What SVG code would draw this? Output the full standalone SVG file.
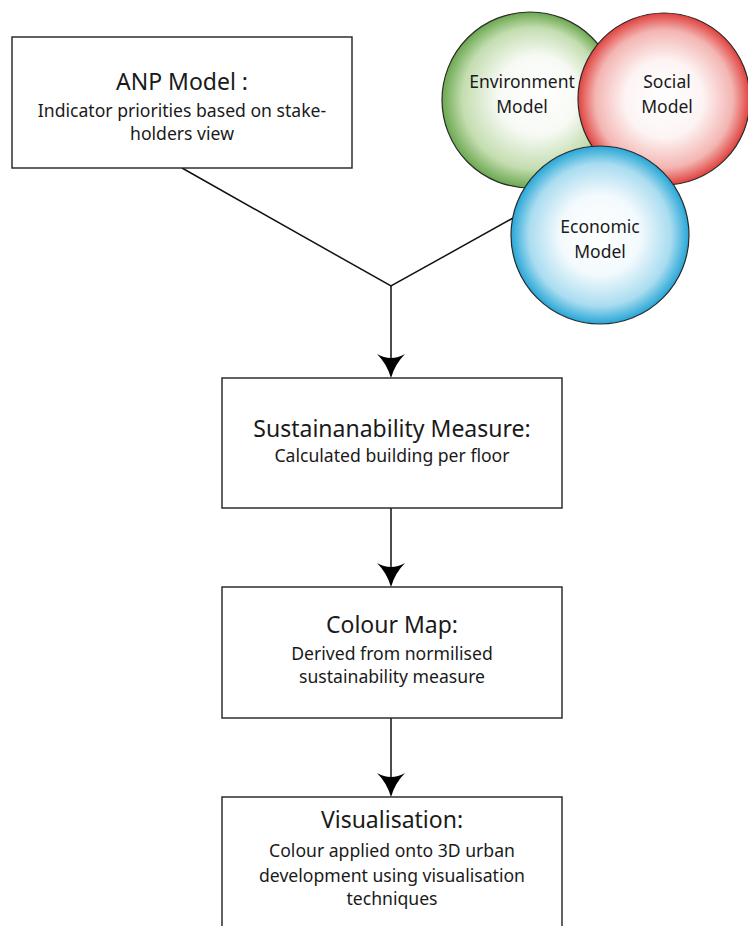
<svg xmlns="http://www.w3.org/2000/svg" width="748" height="926" viewBox="0 0 748 926">
<style>
.box{fill:#fff;stroke:#231f20;stroke-width:1.4}
.t{font-family:"Noto Sans","Open Sans",sans-serif;fill:#1a1a1a;text-anchor:middle}
.title{font-size:23px}
.sub{font-size:17.6px}
.ct{font-size:17.5px}
.ln{fill:none;stroke:#111;stroke-width:1.5}
.head{fill:#000}
.circ{stroke:#2b2b2b;stroke-width:1.2}
</style>
<defs>
<radialGradient id="gG" cx="0.5" cy="0.5" r="0.5" fx="0.58" fy="0.45">
<stop offset="0" stop-color="#ffffff"/>
<stop offset="0.45" stop-color="#f7faf4"/>
<stop offset="0.8" stop-color="#c4ddb0"/>
<stop offset="1" stop-color="#6aa84f"/>
</radialGradient>
<radialGradient id="gR" cx="0.5" cy="0.5" r="0.5" fx="0.5" fy="0.5">
<stop offset="0" stop-color="#ffffff"/>
<stop offset="0.45" stop-color="#fdf4f4"/>
<stop offset="0.8" stop-color="#f3b5b2"/>
<stop offset="1" stop-color="#e0413d"/>
</radialGradient>
<radialGradient id="gB" cx="0.5" cy="0.5" r="0.5" fx="0.5" fy="0.5">
<stop offset="0" stop-color="#ffffff"/>
<stop offset="0.45" stop-color="#f3fafd"/>
<stop offset="0.8" stop-color="#a9dcf0"/>
<stop offset="1" stop-color="#26a6d6"/>
</radialGradient>
</defs>

<g id="connectors">
<polyline class="ln" points="182,168 391,286 513,218"/>
<line class="ln" x1="391" y1="286" x2="391" y2="372"/>
<path class="head" d="M391,378 Q387,364 377,354 Q391,362 405,354 Q395,364 391,378 Z"/>
<line class="ln" x1="391" y1="508" x2="391" y2="581"/>
<path class="head" d="M391,587 Q387,573 377,563 Q391,571 405,563 Q395,573 391,587 Z"/>
<line class="ln" x1="391" y1="718" x2="391" y2="791"/>
<path class="head" d="M391,797 Q387,783 377,773 Q391,781 405,773 Q395,783 391,797 Z"/>
</g>

<g id="anp">
<rect class="box" x="12" y="37" width="340" height="131"/>
<text class="t title" x="182" y="90">ANP Model :</text>
<text class="t sub" x="182" y="117">Indicator priorities based on stake-</text>
<text class="t sub" x="182" y="140">holders view</text>
</g>

<g id="environment">
<circle class="circ" cx="530" cy="100" r="88" fill="url(#gG)"/>
<text class="t ct" x="522" y="88">Environment</text>
<text class="t ct" x="522" y="113">Model</text>
</g>
<g id="social">
<circle class="circ" cx="664" cy="99" r="86" fill="url(#gR)"/>
<text class="t ct" x="667" y="88">Social</text>
<text class="t ct" x="667" y="113">Model</text>
</g>
<g id="economic">
<circle class="circ" cx="600" cy="235" r="89" fill="url(#gB)"/>
<text class="t ct" x="600" y="233">Economic</text>
<text class="t ct" x="600" y="258">Model</text>
</g>

<g id="sustainability">
<rect class="box" x="222" y="378" width="340" height="130"/>
<text class="t title" x="392" y="437">Sustainanability Measure:</text>
<text class="t sub" x="392" y="462">Calculated building per floor</text>
</g>

<g id="colourmap">
<rect class="box" x="222" y="587" width="340" height="131"/>
<text class="t title" x="392" y="633">Colour Map:</text>
<text class="t sub" x="392" y="660">Derived from normilised</text>
<text class="t sub" x="392" y="683">sustainability measure</text>
</g>

<g id="visualisation">
<rect class="box" x="222" y="797" width="340" height="140"/>
<text class="t title" x="392" y="828">Visualisation:</text>
<text class="t sub" x="392" y="857">Colour applied onto 3D urban</text>
<text class="t sub" x="392" y="882">development using visualisation</text>
<text class="t sub" x="392" y="905">techniques</text>
</g>
</svg>
